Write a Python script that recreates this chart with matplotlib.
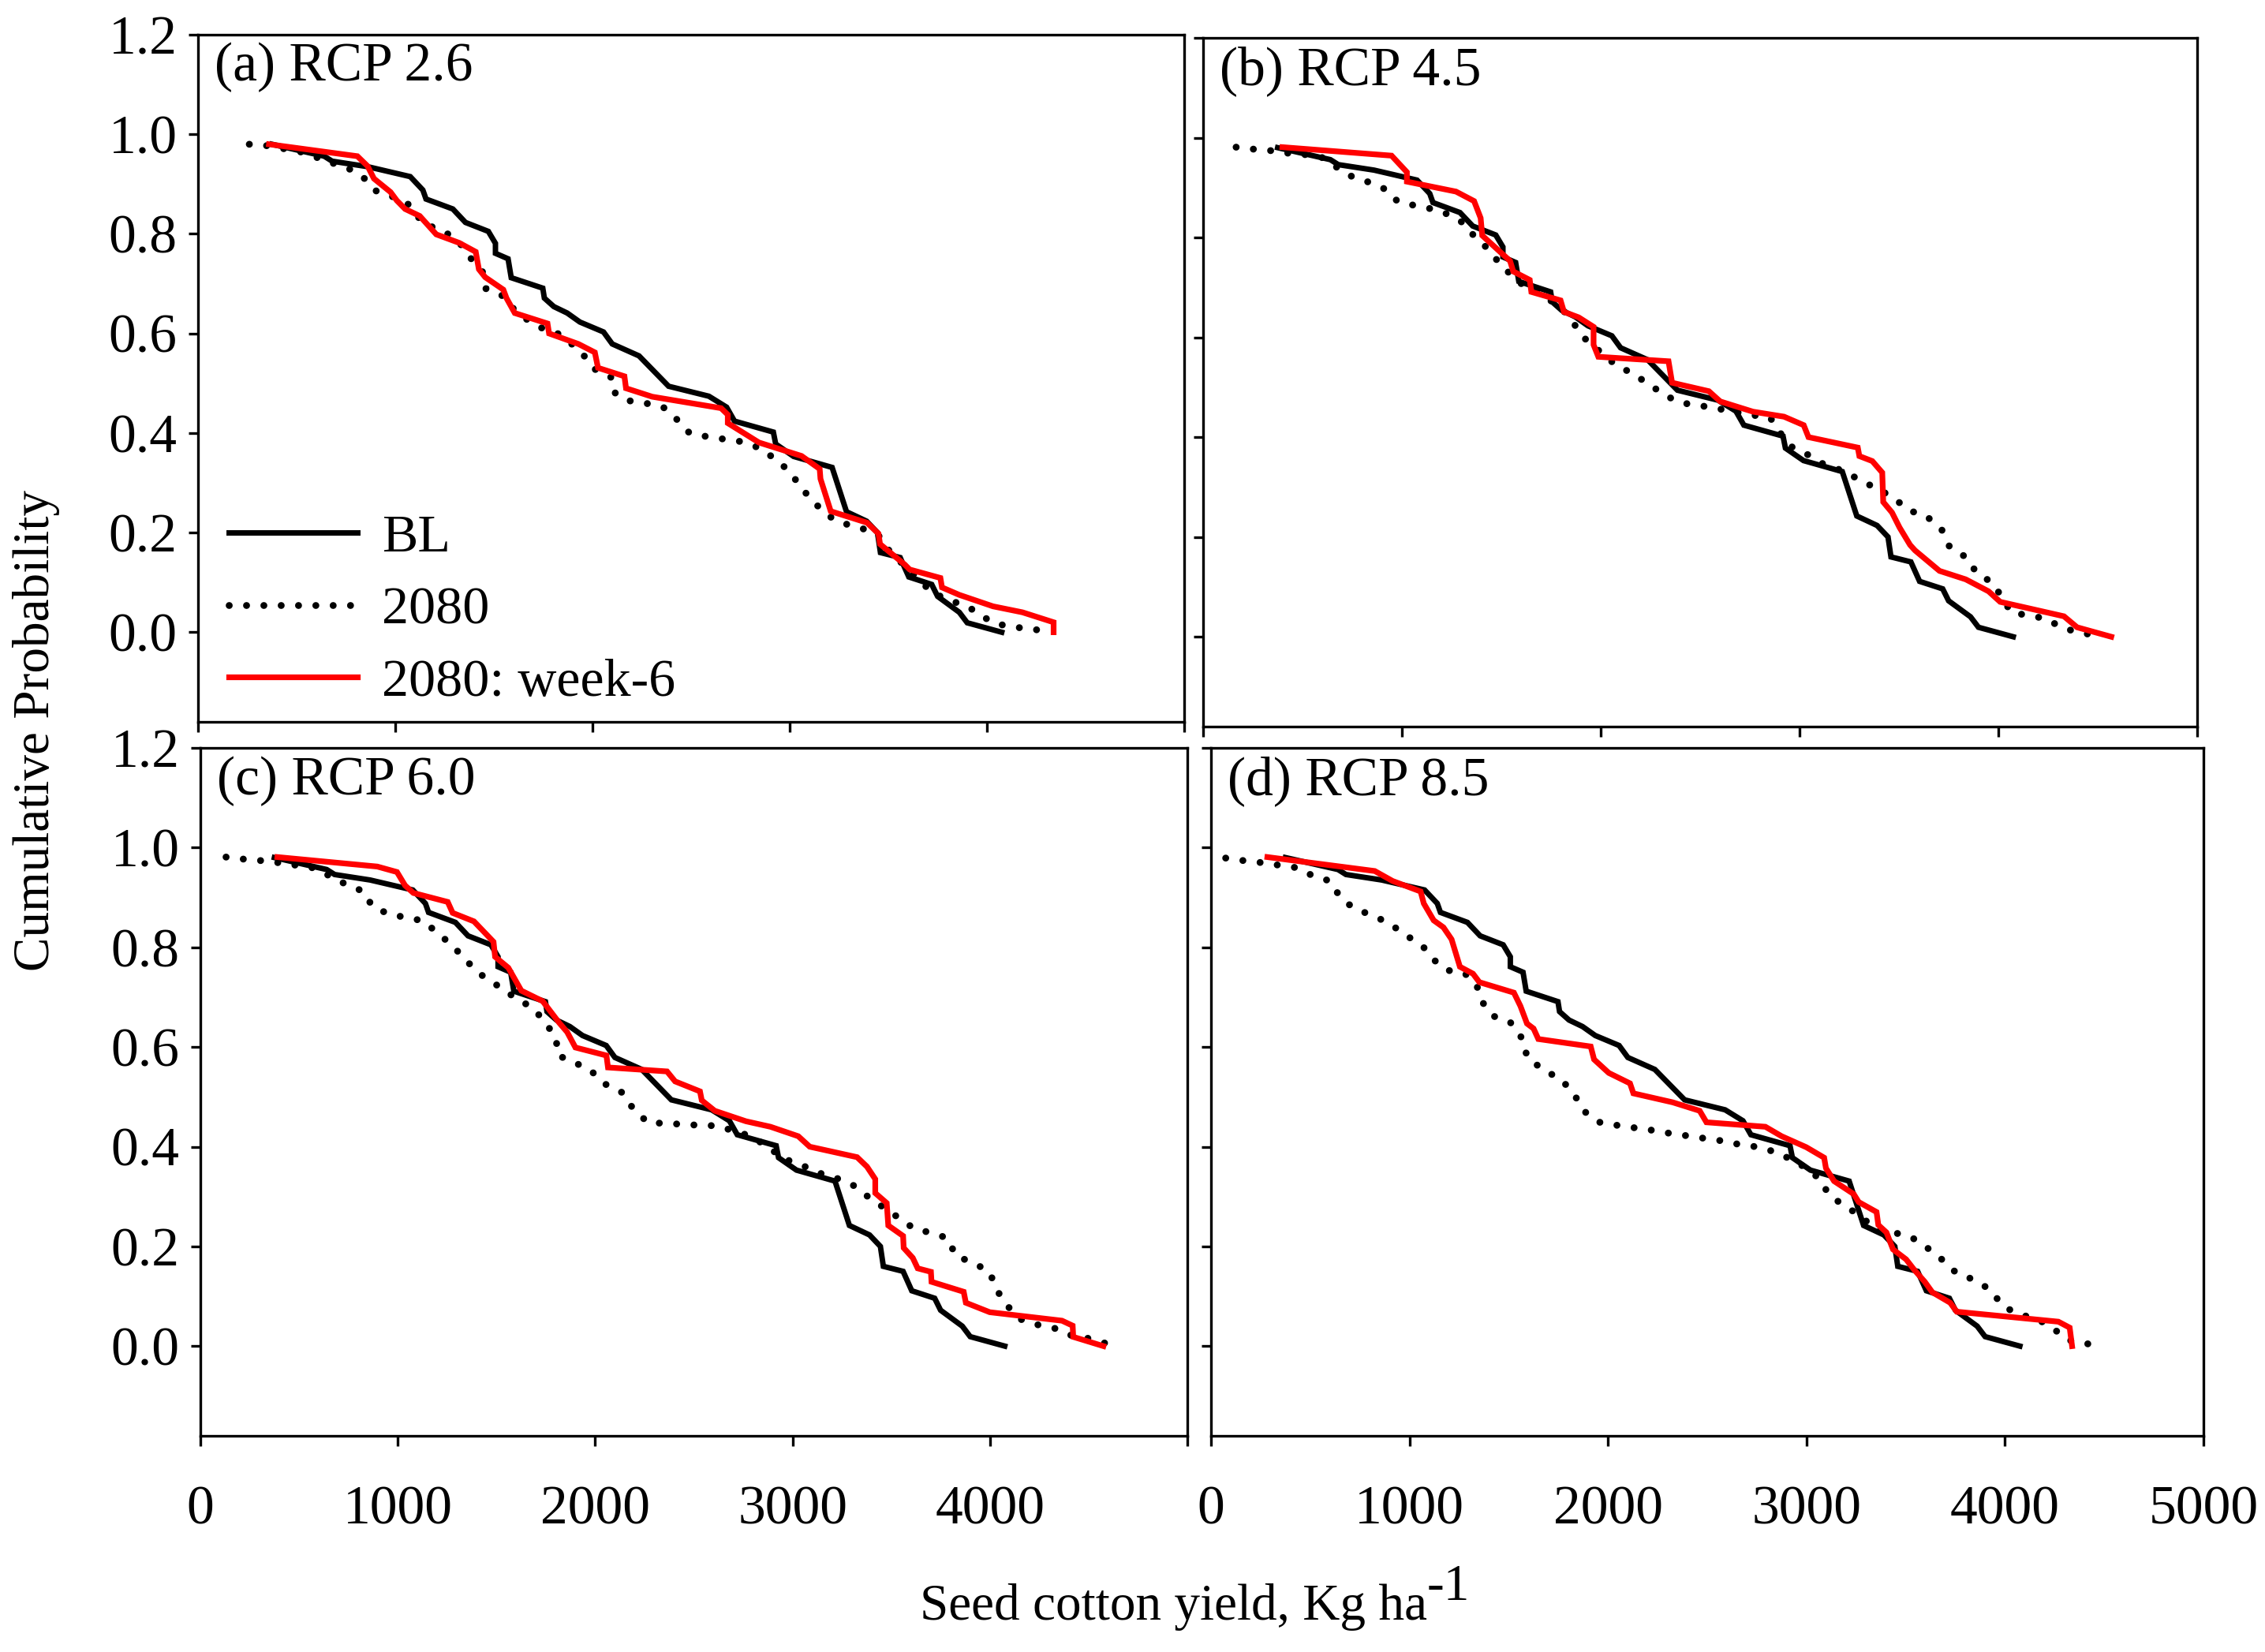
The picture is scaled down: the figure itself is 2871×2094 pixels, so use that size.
""" Cumulative probability of seed cotton yield

Four RCP panels, baseline vs 2080 vs 2080 with week-6 sowing

"""

import matplotlib
matplotlib.use('Agg')
import matplotlib.pyplot as plt

# baseline is the same in every panel
bl_x = [375, 640, 680, 860, 1076, 1140, 1156, 1292, 1356, 1472, 1508, 1508, 1572, 1588,
        1748, 1756, 1804, 1872, 1936, 2056, 2100, 2236, 2386, 2590, 2680, 2720, 2917, 2929,
        3020, 3215, 3288, 3390, 3445, 3460, 3560, 3604, 3720, 3750, 3860, 3900, 4075]
bl_y = [0.98, 0.956, 0.946, 0.935, 0.915, 0.888, 0.87, 0.85, 0.823, 0.805, 0.781, 0.761, 0.75,
        0.712, 0.691, 0.671, 0.654, 0.641, 0.623, 0.603, 0.579, 0.555, 0.494, 0.474, 0.452,
        0.424, 0.402, 0.378, 0.353, 0.331, 0.242, 0.223, 0.2, 0.16, 0.15, 0.111, 0.096, 0.072,
        0.04, 0.019, 0.0]

# (a) RCP 2.6
a_fut_x = [260, 352, 436, 528, 776, 856, 904, 992, 1078, 1140, 1228, 1316, 1372, 1444, 1460,
           1548, 1596, 1668, 1736, 1820, 1904, 1960, 2016, 2104, 2116, 2184, 2268, 2356, 2424,
           2492, 2578, 2664, 2752, 2840, 2916, 3000, 3060, 3138, 3212, 3300, 3388, 3462, 3510,
           3620, 3720, 3811, 3902, 3976, 4044, 4132, 4220, 4308]
a_fut_y = [0.98, 0.977, 0.971, 0.964, 0.929, 0.908, 0.886, 0.874, 0.857, 0.82, 0.809, 0.788,
           0.756, 0.723, 0.69, 0.675, 0.651, 0.628, 0.612, 0.601, 0.576, 0.554, 0.527, 0.51,
           0.479, 0.465, 0.46, 0.453, 0.429, 0.4, 0.393, 0.388, 0.383, 0.371, 0.351, 0.323,
           0.289, 0.255, 0.23, 0.215, 0.206, 0.191, 0.16, 0.12, 0.08, 0.064, 0.052, 0.032,
           0.017, 0.011, 0.006, 0.003]
a_wk6_x = [360, 808, 860, 892, 976, 1008, 1050, 1124, 1208, 1324, 1408, 1424, 1456, 1548, 1564,
           1606, 1772, 1780, 1928, 2012, 2028, 2162, 2170, 2303, 2652, 2686, 2686, 2844, 3060,
           3152, 3156, 3208, 3392, 3450, 3458, 3583, 3608, 3764, 3772, 3860, 4031, 4180, 4338,
           4338]
a_wk6_y = [0.98, 0.956, 0.936, 0.911, 0.884, 0.867, 0.85, 0.836, 0.799, 0.782, 0.764, 0.729,
           0.713, 0.688, 0.671, 0.641, 0.62, 0.6, 0.579, 0.562, 0.531, 0.514, 0.49, 0.473, 0.45,
           0.437, 0.42, 0.381, 0.354, 0.328, 0.308, 0.243, 0.22, 0.198, 0.177, 0.136, 0.126,
           0.109, 0.09, 0.075, 0.052, 0.04, 0.02, 0.0]

# (b) RCP 4.5
b_fut_x = [166, 254, 342, 427, 515, 600, 663, 745, 832, 921, 979, 1066, 1153, 1236, 1318, 1366,
           1440, 1494, 1593, 1681, 1768, 1838, 1907, 2071, 2157, 2243, 2330, 2416, 2502, 2590,
           2766, 2853, 2893, 2963, 3051, 3124, 3207, 3296, 3382, 3469, 3549, 3635, 3716, 3755,
           3843, 3890, 3972, 4066, 4154, 4239, 4326, 4412, 4500]
b_fut_y = [0.981, 0.977, 0.974, 0.969, 0.966, 0.960, 0.943, 0.923, 0.911, 0.896, 0.872, 0.864,
           0.857, 0.846, 0.827, 0.801, 0.775, 0.746, 0.709, 0.692, 0.668, 0.644, 0.602, 0.546,
           0.528, 0.506, 0.482, 0.468, 0.463, 0.457, 0.444, 0.439, 0.413, 0.380, 0.363, 0.345,
           0.334, 0.316, 0.298, 0.280, 0.253, 0.243, 0.214, 0.180, 0.158, 0.128, 0.108, 0.048,
           0.043, 0.036, 0.017, 0.0085, 0.0015]
b_wk6_x = [399, 948, 1025, 1025, 1272, 1363, 1396, 1404, 1544, 1560, 1643, 1651, 1798, 1815,
           1889, 1964, 1964, 1988, 2341, 2359, 2544, 2601, 2766, 2922, 3021, 3045, 3293, 3301,
           3366, 3416, 3421, 3465, 3503, 3556, 3581, 3704, 3836, 3951, 4009, 4330, 4396, 4568]
b_wk6_y = [0.981, 0.964, 0.931, 0.912, 0.892, 0.873, 0.839, 0.804, 0.753, 0.732, 0.715, 0.691,
           0.674, 0.651, 0.640, 0.621, 0.585, 0.561, 0.552, 0.509, 0.492, 0.4715, 0.451, 0.441,
           0.424, 0.400, 0.379, 0.362, 0.352, 0.329, 0.270, 0.249, 0.219, 0.184, 0.173, 0.132,
           0.115, 0.091, 0.070, 0.041, 0.019, 0.0]

# (c) RCP 6.0
c_fut_x = [130, 216, 304, 390, 478, 564, 651, 739, 827, 871, 958, 1042, 1128, 1195, 1278, 1352,
           1432, 1518, 1601, 1687, 1742, 1803, 1808, 1886, 1969, 2049, 2135, 2193, 2268, 2352,
           2439, 2527, 2615, 2700, 2789, 2877, 2954, 3042, 3128, 3216, 3306, 3391, 3469, 3543,
           3618, 3706, 3789, 3825, 3911, 3999, 4029, 4085, 4154, 4240, 4326, 4409, 4505, 4591]
c_fut_y = [0.981, 0.977, 0.974, 0.970, 0.965, 0.960, 0.944, 0.926, 0.912, 0.882, 0.866, 0.860,
           0.853, 0.831, 0.803, 0.771, 0.742, 0.720, 0.697, 0.678, 0.651, 0.619, 0.584, 0.570,
           0.556, 0.526, 0.509, 0.476, 0.448, 0.447, 0.445, 0.443, 0.442, 0.432, 0.421, 0.399,
           0.376, 0.364, 0.348, 0.338, 0.323, 0.297, 0.276, 0.256, 0.235, 0.227, 0.216, 0.181,
           0.168, 0.149, 0.116, 0.082, 0.054, 0.043, 0.036, 0.022, 0.015, 0.005]
c_wk6_x = [390, 896, 996, 1037, 1079, 1253, 1278, 1386, 1485, 1493, 1560, 1626, 1734, 1817,
           1858, 1900, 2057, 2065, 2364, 2405, 2531, 2540, 2606, 2764, 2888, 3029, 3087, 3327,
           3377, 3419, 3419, 3477, 3485, 3560, 3563, 3609, 3634, 3701, 3704, 3867, 3878, 3999,
           4365, 4419, 4422, 4575]
c_wk6_y = [0.981, 0.962, 0.951, 0.924, 0.909, 0.891, 0.869, 0.852, 0.811, 0.781, 0.759, 0.713,
           0.692, 0.649, 0.630, 0.599, 0.583, 0.559, 0.551, 0.531, 0.511, 0.493, 0.472, 0.451,
           0.440, 0.421, 0.400, 0.379, 0.360, 0.335, 0.307, 0.287, 0.242, 0.221, 0.197, 0.177,
           0.156, 0.149, 0.129, 0.109, 0.087, 0.068, 0.051, 0.041, 0.0185, 0.0]

# (d) RCP 8.5
d_fut_x = [74, 162, 251, 338, 426, 511, 599, 652, 714, 803, 891, 976, 1067, 1133, 1191, 1278,
           1339, 1369, 1423, 1509, 1575, 1592, 1679, 1765, 1831, 1880, 1959, 2045, 2133, 2223,
           2309, 2397, 2482, 2570, 2656, 2743, 2830, 2916, 3000, 3073, 3111, 3192, 3270, 3345,
           3436, 3523, 3609, 3688, 3757, 3845, 3926, 3992, 4079, 4165, 4247, 4318, 4409, 4496]
d_fut_y = [0.979, 0.974, 0.970, 0.965, 0.960, 0.944, 0.933, 0.900, 0.880, 0.865, 0.850, 0.826,
           0.802, 0.771, 0.754, 0.748, 0.723, 0.689, 0.662, 0.649, 0.613, 0.579, 0.553, 0.535,
           0.504, 0.471, 0.449, 0.443, 0.438, 0.433, 0.427, 0.422, 0.417, 0.412, 0.405, 0.400,
           0.391, 0.376, 0.357, 0.333, 0.304, 0.281, 0.262, 0.235, 0.228, 0.220, 0.197, 0.172,
           0.146, 0.133, 0.113, 0.079, 0.063, 0.054, 0.034, 0.012, 0.005, 0.0]
d_wk6_x = [284, 825, 915, 1056, 1072, 1122, 1171, 1212, 1254, 1320, 1352, 1526, 1559, 1592,
           1625, 1649, 1913, 1930, 2004, 2111, 2128, 2326, 2462, 2496, 2793, 2875, 2999, 3089,
           3098, 3139, 3238, 3263, 3353, 3362, 3403, 3436, 3502, 3543, 3596, 3634, 3724, 3757,
           4269, 4326, 4338]
d_wk6_y = [0.981, 0.953, 0.933, 0.912, 0.888, 0.854, 0.840, 0.816, 0.761, 0.747, 0.730, 0.709,
           0.682, 0.647, 0.637, 0.616, 0.601, 0.575, 0.548, 0.527, 0.507, 0.489, 0.472, 0.449,
           0.440, 0.421, 0.399, 0.378, 0.357, 0.331, 0.305, 0.289, 0.269, 0.243, 0.228, 0.194,
           0.174, 0.153, 0.129, 0.108, 0.087, 0.069, 0.049, 0.037, 0.0]

panel_titles = ['(a) RCP 2.6', '(b) RCP 4.5', '(c) RCP 6.0', '(d) RCP 8.5']
series_labels = ['BL', '2080', '2080: week-6']
x_ticks = [0, 1000, 2000, 3000, 4000, 5000]
y_ticks = [0.0, 0.2, 0.4, 0.6, 0.8, 1.0, 1.2]


def main():

    plt.rcParams['font.family'] = ['Liberation Serif', 'DejaVu Serif']

    fs = 50       # ticks, panel titles, legend
    fs_lab = 47   # axis titles
    fig = plt.figure(figsize=(28.71, 20.94), dpi=100)

    W, H = 2871.0, 2094.0
    boxes = [(251, 44, 1501, 915), (1525, 48, 2785, 921),
             (254, 948, 1505, 1820), (1535, 948, 2793, 1820)]
    futs = [(a_fut_x, a_fut_y), (b_fut_x, b_fut_y), (c_fut_x, c_fut_y), (d_fut_x, d_fut_y)]
    wk6s = [(a_wk6_x, a_wk6_y), (b_wk6_x, b_wk6_y), (c_wk6_x, c_wk6_y), (d_wk6_x, d_wk6_y)]

    axes = []
    for i, (l, t, r, b) in enumerate(boxes):
        ax = fig.add_axes([l / W, 1 - b / H, (r - l) / W, (b - t) / H])
        axes.append(ax)

        ax.plot(bl_x, bl_y, color='black', lw=5, label=series_labels[0],
                solid_joinstyle='miter')
        ax.plot(futs[i][0], futs[i][1], color='black', lw=6.3,
                linestyle=(0, (0.01, 2.5)), dash_capstyle='round', label=series_labels[1])
        ax.plot(wk6s[i][0], wk6s[i][1], color='#ff0000', lw=5.2, label=series_labels[2],
                solid_joinstyle='miter')

        ax.set_xlim(0, 5000)
        ax.set_ylim(-0.18, 1.2)
        ax.set_xticks(x_ticks)
        ax.set_yticks(y_ticks)
        for sp in ax.spines.values():
            sp.set_linewidth(2.4)
        ax.tick_params(direction='out', length=9, width=2.4, labelsize=fs)
        ax.tick_params(axis='x', pad=36)
        ax.tick_params(axis='y', pad=10)

        if i in (0, 2):
            ax.set_yticklabels(['%.1f' % v for v in y_ticks])
        else:
            ax.set_yticklabels([])
        if i == 2:
            ax.set_xticklabels(['0', '1000', '2000', '3000', '4000', ''])
        elif i == 3:
            ax.set_xticklabels([str(v) for v in x_ticks])
        else:
            ax.set_xticklabels([])

        ax.text(0.017, 0.952, panel_titles[i], transform=ax.transAxes,
                fontsize=fs, ha='left', va='center')

    axes[0].legend(loc='lower left', bbox_to_anchor=(0.02, 0.006), frameon=False,
                   fontsize=fs - 1, handlelength=2.4, handletextpad=0.45,
                   labelspacing=0.44, borderpad=0.2, borderaxespad=0.0)

    fig.text(0.016, 0.558, 'Cumulative Probability', rotation=90,
             fontsize=fs_lab, ha='center', va='center')

    # x title, with the -1 exponent put on as its own text
    xt = fig.text(0.518, 0.027, 'Seed cotton yield, Kg ha',
                  fontsize=fs_lab, ha='center', va='center')
    axes[2].annotate('-1', xy=(1.0, 0.42), xycoords=xt, ha='left', va='bottom',
                     fontsize=fs_lab, annotation_clip=False)

    plt.savefig('out.png', dpi=100)


if __name__ == '__main__':

    main()
